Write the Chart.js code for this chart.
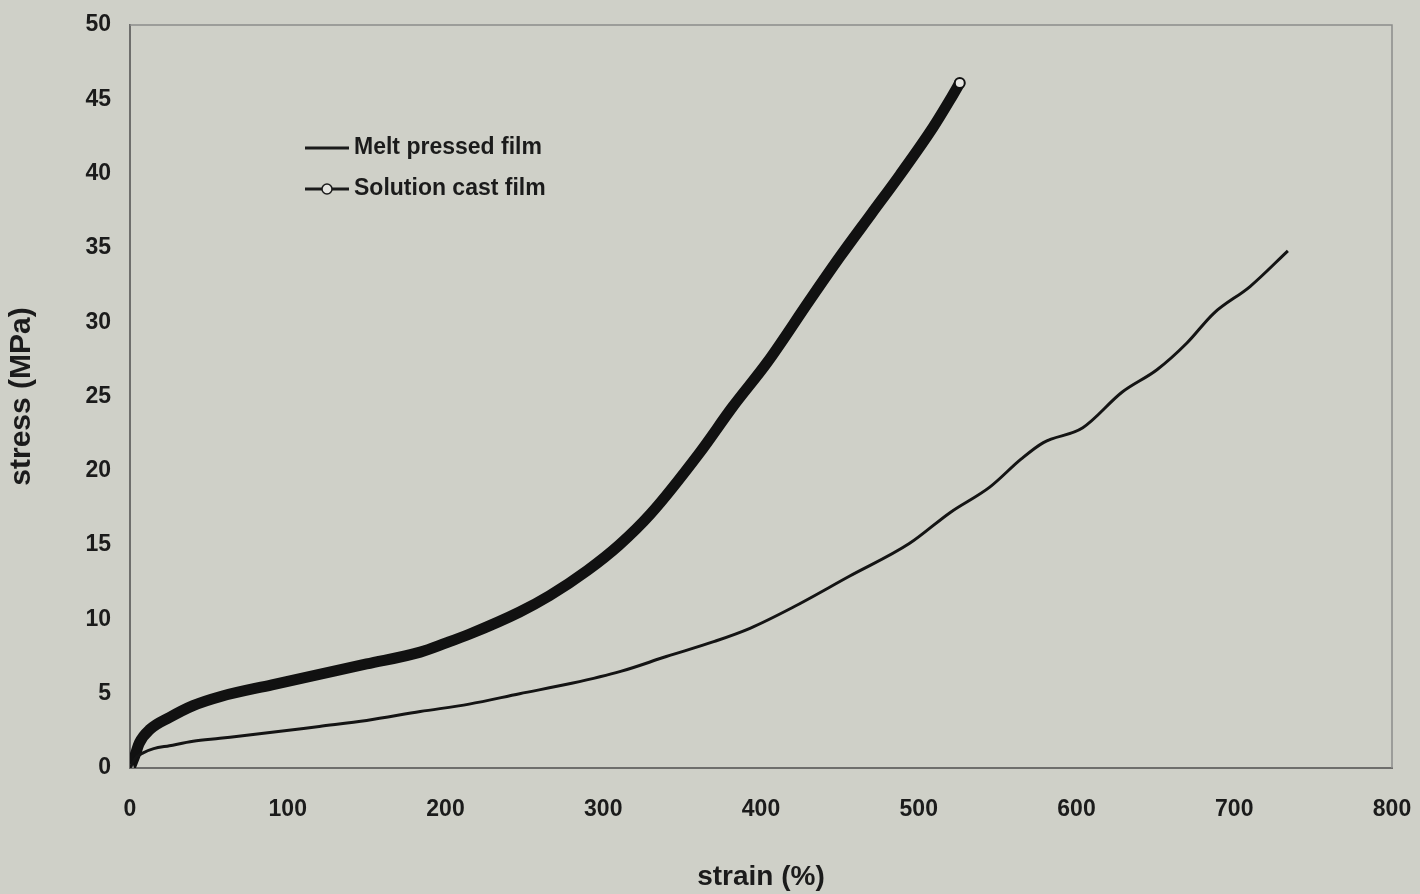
<!DOCTYPE html>
<html lang="en">
<head>
    <meta charset="UTF-8">
    <title>Stress vs strain: melt pressed and solution cast films</title>
    <script src="https://cdn.jsdelivr.net/npm/chart.js"></script>
    <style>
        body {
            margin: 0;
            background-color: #cfd0c8; /* scanned paper grey */
        }
        #wrap {
            width: 1420px;
            height: 894px;
        }
    </style>
</head>
<body>

<div id="wrap"><canvas id="stressChart"></canvas></div>

<script>
    // Melt pressed film (thin line)
    const meltStrain = [0, 3, 8, 15, 25, 40, 57, 90, 120, 150, 184, 215, 247, 280, 311, 340, 370, 393, 420, 456, 494, 520, 545, 565, 579, 604, 629, 651, 670, 687, 710, 734];
    const meltStress = [0, 0.6, 1.0, 1.3, 1.5, 1.8, 2.0, 2.4, 2.8, 3.2, 3.8, 4.3, 5.0, 5.7, 6.5, 7.5, 8.5, 9.4, 10.8, 12.9, 15.1, 17.2, 18.9, 20.8, 21.9, 22.9, 25.3, 26.8, 28.6, 30.6, 32.4, 34.8];

    // Solution cast film (thick band of circle markers)
    const castStrain = [0, 3, 6, 12.7, 25, 40, 57, 90, 120, 150, 184, 200, 215, 247, 266, 290, 310, 330, 361, 382, 404, 431, 450, 470, 488, 509, 520, 526];
    const castStress = [0, 0.8, 1.7, 2.6, 3.4, 4.2, 4.8, 5.6, 6.3, 7.0, 7.8, 8.4, 9.0, 10.5, 11.6, 13.3, 15.0, 17.1, 21.2, 24.3, 27.3, 31.5, 34.4, 37.3, 39.9, 43.1, 45.0, 46.1];

    const seriesNames = ['Melt pressed film', 'Solution cast film'];
    const xTitle = 'strain (%)';
    const yTitle = 'stress (MPa)';

    const toPoints = (xs, ys) => xs.map((x, i) => ({ x: x, y: ys[i] }));

    const fontFamily = "'Liberation Sans', Arial, sans-serif";
    const ink = '#1b1b1b';

    // Draws the grey frame around the plot and the legend inside it
    const framePlugin = {
        id: 'frame',
        beforeDatasetsDraw(chart) {
            const { ctx, chartArea: a } = chart;
            ctx.save();
            ctx.strokeStyle = '#8c8c8a';
            ctx.lineWidth = 1.5;
            ctx.beginPath();
            ctx.moveTo(a.left, a.top);
            ctx.lineTo(a.right, a.top);
            ctx.lineTo(a.right, a.bottom);
            ctx.stroke();
            ctx.restore();
        },
        afterDraw(chart) {
            const { ctx, chartArea: a } = chart;
            const x0 = a.left + 175;
            const rows = [a.top + 123, a.top + 164];
            ctx.save();
            ctx.strokeStyle = ink;
            ctx.fillStyle = ink;
            ctx.font = 'bold 23px ' + fontFamily;
            ctx.textBaseline = 'middle';
            rows.forEach((y, i) => {
                ctx.lineWidth = 3;
                ctx.beginPath();
                ctx.moveTo(x0, y);
                ctx.lineTo(x0 + 44, y);
                ctx.stroke();
                if (i === 1) {
                    ctx.beginPath();
                    ctx.arc(x0 + 22, y, 5, 0, Math.PI * 2);
                    ctx.fillStyle = '#e4e4e0';
                    ctx.fill();
                    ctx.lineWidth = 1.5;
                    ctx.stroke();
                    ctx.fillStyle = ink;
                }
                ctx.fillText(seriesNames[i], x0 + 49, y);
            });
            ctx.restore();
        }
    };

    const lastCast = castStrain.length - 1;

    const chart = new Chart(document.getElementById('stressChart'), {
        type: 'scatter',
        data: {
            datasets: [
                {
                    label: seriesNames[0],
                    data: toPoints(meltStrain, meltStress),
                    showLine: true,
                    borderColor: '#141414',
                    borderWidth: 3,
                    pointRadius: 0,
                    cubicInterpolationMode: 'monotone'
                },
                {
                    label: seriesNames[1],
                    data: toPoints(castStrain, castStress),
                    showLine: true,
                    borderColor: '#111111',
                    borderWidth: 11,
                    cubicInterpolationMode: 'monotone',
                    pointRadius: ctx => (ctx.dataIndex === 0 || ctx.dataIndex === lastCast) ? 5 : 0,
                    pointBackgroundColor: ctx => ctx.dataIndex === 0 ? '#8a8a86' : '#e6e6e2',
                    pointBorderColor: '#111111',
                    pointBorderWidth: 2
                }
            ]
        },
        options: {
            responsive: true,
            maintainAspectRatio: false,
            animation: false,
            layout: { padding: { top: 25, right: 28, left: 0, bottom: 0 } },
            plugins: {
                legend: { display: false },
                tooltip: { enabled: false }
            },
            scales: {
                x: {
                    type: 'linear',
                    min: 0,
                    max: 800,
                    ticks: {
                        stepSize: 100,
                        color: ink,
                        padding: 20,
                        font: { family: fontFamily, size: 23, weight: 'bold' }
                    },
                    grid: { display: false },
                    border: { display: true, color: '#6e6e6c', width: 2 },
                    title: {
                        display: true,
                        text: xTitle,
                        color: ink,
                        padding: { top: 0, bottom: 0 },
                        font: { family: fontFamily, size: 28, weight: 'bold' }
                    },
                    afterFit(scale) {
                        scale.height = 126;
                        scale.paddingLeft = 0;
                        scale.paddingRight = 0;
                    }
                },
                y: {
                    min: 0,
                    max: 50,
                    ticks: {
                        stepSize: 5,
                        color: ink,
                        padding: 11,
                        font: { family: fontFamily, size: 23, weight: 'bold' }
                    },
                    grid: { display: false },
                    border: { display: true, color: '#6e6e6c', width: 2 },
                    title: {
                        display: true,
                        text: yTitle,
                        color: ink,
                        padding: { top: 4, bottom: 0 },
                        font: { family: fontFamily, size: 30, weight: 'bold' }
                    },
                    afterFit(scale) {
                        scale.width = 130;
                        scale.paddingTop = 0;
                        scale.paddingBottom = 0;
                    }
                }
            }
        },
        plugins: [framePlugin]
    });
</script>

</body>
</html>
